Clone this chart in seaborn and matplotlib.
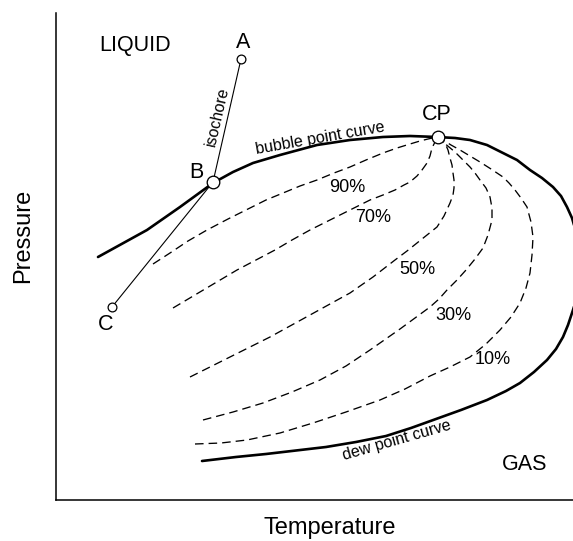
import matplotlib
matplotlib.use("Agg")
import matplotlib.pyplot as plt
import pandas as pd
import seaborn as sns

# ---------------- data (arbitrary temperature / pressure units) ----------------
# phase envelope: bubble point curve -> critical point -> dew point curve
env_T = [42, 91, 124, 157, 177, 197, 224, 261, 294, 327, 354, 381, 399, 414, 431, 447,
         461, 474, 486, 497, 505, 511, 516, 520, 523, 524, 523, 520, 517, 512, 507, 500,
         491, 478, 464, 450, 431, 405, 380, 355, 330, 300, 270, 240, 210, 180, 146]
env_P = [243, 270, 293, 317, 328, 337, 345, 355, 360, 363, 364, 363, 362, 360, 355, 347,
         340, 330, 322, 313, 304, 293, 282, 268, 250, 230, 212, 200, 190, 175, 163, 151,
         140, 128, 117, 109, 100, 90, 81, 72, 64, 58, 53, 49.5, 46, 43, 39]

# quality lines (liquid volume fraction)
q_names = ["90%", "70%", "50%", "30%", "10%"]
q90_T = [97, 114, 132, 151, 172, 194, 210, 227, 244, 261, 278, 294, 310, 327, 341,
         354, 364, 372, 381]
q90_P = [236, 247, 259, 270, 281, 292, 300, 307, 314, 320, 327, 333, 340, 347, 352,
         356, 359, 361, 363]
q70_T = [117, 149, 181, 200, 219, 236, 254, 274, 294, 314, 327, 339, 348, 354, 361,
         366, 371, 374, 376, 379, 381]
q70_P = [192, 211, 230, 240, 250, 260, 270, 280, 290, 300, 305, 310, 315, 318, 324,
         330, 337, 344, 352, 358, 363]
q50_T = [134, 174, 214, 254, 294, 317, 339, 351, 361, 371, 381, 388, 394, 397, 398,
         398, 397, 396, 394, 392, 389, 381]
q50_P = [123, 143, 163, 185, 207, 223, 240, 249, 257, 265, 273, 284, 297, 305, 312,
         320, 327, 335, 342, 350, 357, 363]
q30_T = [147, 177, 207, 236, 264, 290, 314, 344, 374, 383, 391, 401, 410, 419, 427,
         432, 436, 436, 434, 430, 424, 419, 414, 406, 399, 393, 387, 381]
q30_P = [80, 88, 97, 108, 120, 134, 150, 171, 193, 201, 210, 220, 230, 241, 252,
         265, 280, 292, 303, 312, 320, 327, 333, 341, 348, 353, 358, 363]
q10_T = [139, 165, 191, 224, 257, 290, 324, 349, 374, 394, 414, 430, 444, 455, 464,
         470, 474, 476, 477, 475, 471, 465, 459, 453, 447, 435, 424, 414, 404, 395,
         387, 381]
q10_P = [56, 57, 60, 67, 77, 88, 100, 111, 124, 133, 143, 156, 170, 183, 197,
         212, 227, 245, 263, 278, 293, 302, 310, 317, 323, 331, 338, 344, 350, 355,
         360, 363]

# isochore path A -> B -> C and the critical point
iso_names = ["A", "B", "C"]
iso_T = [185, 157, 56]
iso_P = [441, 318, 193]
cp_T, cp_P = [381.5], [363]

quality_curves = {
    "90%": (q90_T, q90_P), "70%": (q70_T, q70_P), "50%": (q50_T, q50_P),
    "30%": (q30_T, q30_P), "10%": (q10_T, q10_P),
}

# ---------------- figure ----------------
sns.set_theme(style="white")
plt.rcParams["font.family"] = ["Liberation Sans", "DejaVu Sans"]
plt.rcParams["text.color"] = "black"
plt.rcParams["axes.labelcolor"] = "black"

W, H = 573, 541
fig = plt.figure(figsize=(W / 100, H / 100), dpi=100)
ax = fig.add_axes([56 / W, 41 / H, 517 / W, 487 / H])
ax.set_xlim(0, 517)
ax.set_ylim(0, 487)

env_df = pd.DataFrame({"T": env_T, "P": env_P})
sns.lineplot(data=env_df, x="T", y="P", sort=False, estimator=None, color="black",
             linewidth=1.9, ax=ax, zorder=3)

for name in q_names:
    t, p = quality_curves[name]
    d = pd.DataFrame({"T": t, "P": p})
    sns.lineplot(data=d, x="T", y="P", sort=False, estimator=None, color="black",
                 linewidth=0.95, linestyle=(0, (6.5, 3.8)), ax=ax, zorder=2)

iso_df = pd.DataFrame({"T": iso_T, "P": iso_P})
sns.lineplot(data=iso_df, x="T", y="P", sort=False, estimator=None, color="black",
             linewidth=0.8, ax=ax, zorder=2)

# small circles A and C, larger circles B and CP
ax.scatter([iso_T[0], iso_T[2]], [iso_P[0], iso_P[2]], s=40, facecolor="white",
           edgecolor="black", linewidth=0.9, zorder=5)
ax.scatter([iso_T[1]] + cp_T, [iso_P[1]] + cp_P, s=82, facecolor="white",
           edgecolor="black", linewidth=0.95, zorder=5)

# ---------------- text ----------------
big = 15.5
ax.text(79, 454, "LIQUID", fontsize=big, ha="center", va="center")
ax.text(469, 35, "GAS", fontsize=big, ha="center", va="center")
ax.text(187, 458, "A", fontsize=big, ha="center", va="center")
ax.text(140, 327, "B", fontsize=big, ha="center", va="center")
ax.text(50, 175, "C", fontsize=big, ha="center", va="center")
ax.text(381, 385, "CP", fontsize=big, ha="center", va="center")

pct_pos = {"90%": (291, 312), "70%": (317, 282), "50%": (361, 230),
           "30%": (397, 185), "10%": (437, 141)}
for name in q_names:
    x, y = pct_pos[name]
    ax.text(x, y, name, fontsize=13, ha="center", va="center")

ax.text(161, 383, "isochore", fontsize=11.5, ha="center", va="center", rotation=77,
        rotation_mode="anchor")
ax.text(264, 362, "bubble point curve", fontsize=11.5, ha="center", va="center",
        rotation=10, rotation_mode="anchor")
ax.text(341, 60, "dew point curve", fontsize=11.5, ha="center", va="center",
        rotation=16, rotation_mode="anchor")

# ---------------- axes styling ----------------
ax.set_xticks([])
ax.set_yticks([])
for s in ["top", "right"]:
    ax.spines[s].set_visible(False)
for s in ["left", "bottom"]:
    ax.spines[s].set_color("black")
    ax.spines[s].set_linewidth(1.1)

ax.set_xlabel("Temperature", fontsize=17)
ax.set_ylabel("Pressure", fontsize=17)
ax.xaxis.label.set_va("center")
ax.yaxis.label.set_va("center")
ax.xaxis.set_label_coords(274 / 517, -28 / 487)
ax.yaxis.set_label_coords(-33 / 517, 264 / 487)

fig.savefig("out.png", dpi=100)
